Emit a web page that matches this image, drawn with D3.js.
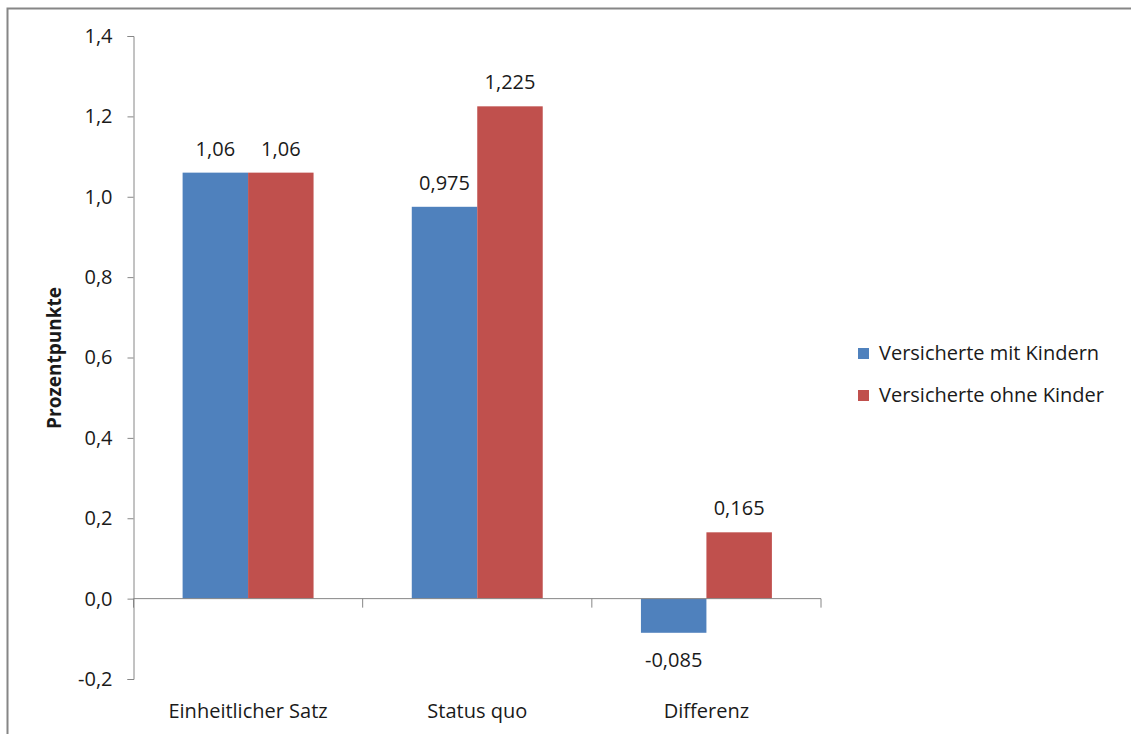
<!DOCTYPE html>
<html><head><meta charset="utf-8">
<script src="https://cdn.jsdelivr.net/npm/d3@7"></script>
<style>body{margin:0;background:#fff;}svg{display:block;}text{font-family:"Open Sans",Lato,sans-serif;fill:#1a1a1a;}</style>
</head><body>
<script>
const categories = ["Einheitlicher Satz", "Status quo", "Differenz"];
const seriesNames = ["Versicherte mit Kindern", "Versicherte ohne Kinder"];
const mitKindern = [1.06, 0.975, -0.085];
const ohneKinder = [1.06, 1.225, 0.165];
const valueLabels = [["1,06", "0,975", "-0,085"], ["1,06", "1,225", "0,165"]];
const yTicks = [-0.2, 0, 0.2, 0.4, 0.6, 0.8, 1.0, 1.2, 1.4];
const colors = ["#4F81BD", "#C0504D"];

const W = 1131, H = 734;
const FS = "20px";
const svg = d3.select("body").append("svg").attr("width", W).attr("height", H);

// outer border
svg.append("rect").attr("x", 7.5).attr("y", 8.5).attr("width", W + 10).attr("height", H + 10)
  .attr("fill", "none").attr("stroke", "#868686").attr("stroke-width", 2);

const y = d3.scaleLinear().domain([-0.2, 1.4]).range([679, 36]);
const x = d3.scaleBand().domain(categories).range([133.5, 821]).paddingInner(0).paddingOuter(0);
const series = [mitKindern, ohneKinder];
const bw = x.bandwidth() / 3.5;

const fmt = v => d3.format(".1f")(v).replace(".", ",").replace("−", "-");

// y axis
const yAxis = svg.append("g").attr("transform", "translate(133.5,0)")
  .call(d3.axisLeft(y).tickValues(yTicks).tickSize(6).tickPadding(15).tickFormat(fmt));
yAxis.selectAll("path,line").attr("stroke", "#868686");
yAxis.selectAll("text").style("font-size", FS).attr("fill", "#1a1a1a")
  .style("font-family", "'Open Sans',Lato,sans-serif");

// bars
series.forEach((vals, si) => {
  svg.append("g").selectAll("rect").data(categories).join("rect")
    .attr("x", c => x(c) + 0.75 * bw + si * bw)
    .attr("width", bw)
    .attr("y", (c, i) => y(Math.max(0, vals[i])))
    .attr("height", (c, i) => Math.abs(y(vals[i]) - y(0)))
    .attr("fill", colors[si]);
  svg.append("g").selectAll("text").data(categories).join("text")
    .attr("x", c => x(c) + 0.75 * bw + si * bw + bw / 2)
    .attr("y", (c, i) => vals[i] >= 0 ? y(vals[i]) - 17 : y(vals[i]) + 34)
    .attr("text-anchor", "middle").style("font-size", FS)
    .text((c, i) => valueLabels[si][i]);
});

// x axis
const xAxisG = svg.append("g").attr("transform", `translate(0,${y(0)})`);
xAxisG.append("line").attr("x1", 133.5).attr("x2", 821).attr("stroke", "#868686");
const bounds = [x.range()[0]].concat(categories.map(c => x(c) + x.bandwidth()));
xAxisG.selectAll("line.t").data(bounds).join("line").attr("class", "t")
  .attr("x1", d => d).attr("x2", d => d).attr("y1", 0).attr("y2", 9).attr("stroke", "#868686");

// category labels
svg.append("g").selectAll("text").data(categories).join("text")
  .attr("x", c => x(c) + x.bandwidth() / 2).attr("y", 718)
  .attr("text-anchor", "middle").style("font-size", FS).text(c => c);

// y title
svg.append("text").attr("transform", "translate(61,358) rotate(-90)")
  .attr("text-anchor", "middle").style("font-size", "19px").style("font-weight", "bold")
  .text("Prozentpunkte");

// legend
const lg = svg.append("g");
seriesNames.forEach((n, i) => {
  lg.append("rect").attr("x", 858).attr("y", 348 + i * 42).attr("width", 11).attr("height", 11).attr("fill", colors[i]);
  lg.append("text").attr("x", 879).attr("y", 360 + i * 42).style("font-size", FS).text(n);
});
</script>
</body></html>
